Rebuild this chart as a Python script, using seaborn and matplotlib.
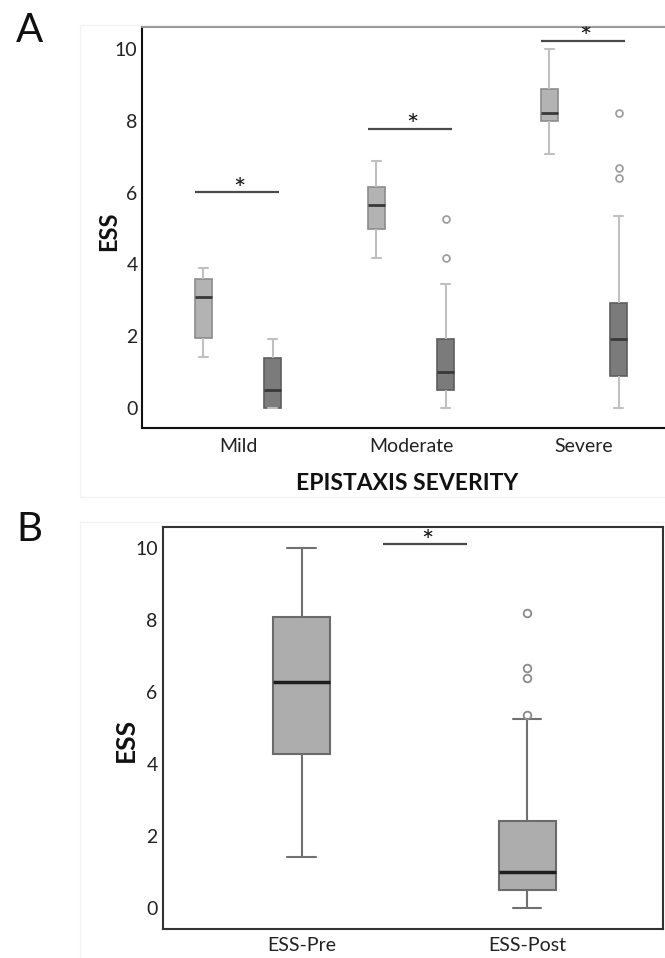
import matplotlib
matplotlib.use('Agg')
import matplotlib.pyplot as plt
import seaborn as sns
import pandas as pd
from matplotlib.patches import Rectangle

# ---- data (ESS scores) ----
severity_levels = ['Mild', 'Moderate', 'Severe']
timepoints = ['Pre', 'Post']

# panel A: per severity group, pre / post treatment
mild_pre = [1.42, 1.7, 1.95, 2.5, 3.09, 3.4, 3.59, 3.75, 3.91]
mild_post = [0.0, 0.0, 0.0, 0.3, 0.51, 1.0, 1.41, 1.7, 1.93]
moderate_pre = [4.17, 4.6, 4.98, 5.3, 5.65, 5.9, 6.15, 6.5, 6.88]
moderate_post = [0.0, 0.2, 0.4, 0.51, 0.6, 0.8, 1.0, 1.3, 1.6, 1.93, 3.46, 4.17, 5.26]
severe_pre = [7.07, 7.5, 7.99, 8.1, 8.2, 8.5, 8.88, 9.4, 10.0]
severe_post = [0.0, 0.2, 0.4, 0.7, 0.91, 1.1, 1.4, 1.7, 1.93, 2.2, 2.5, 2.7, 2.92,
               5.36, 6.39, 6.68, 8.22]

# panel B: all patients
group_labels_b = ['ESS-Pre', 'ESS-Post']
ess_pre = [1.41, 3.0, 4.28, 5.3, 6.27, 7.2, 8.07, 9.0, 10.0]
ess_post = [0.0, 0.1, 0.2, 0.3, 0.4, 0.51, 0.6, 0.7, 0.8, 0.9, 1.01, 1.3, 1.6, 1.9,
            2.2, 2.43, 5.25, 5.36, 6.38, 6.67, 8.2]

# height of the significance bars
sig_y_a = [6.01, 7.77, 10.22]
sig_y_b = 10.10

# ---- build long tables ----
pre_lists = [mild_pre, moderate_pre, severe_pre]
post_lists = [mild_post, moderate_post, severe_post]
rows = []
for sev, pre, post in zip(severity_levels, pre_lists, post_lists):
    for v in pre:
        rows.append((sev, 'Pre', v))
    for v in post:
        rows.append((sev, 'Post', v))
df_a = pd.DataFrame(rows, columns=['severity', 'time', 'ess'])

df_b = pd.DataFrame({
    'group': [group_labels_b[0]] * len(ess_pre) + [group_labels_b[1]] * len(ess_post),
    'ess': ess_pre + ess_post,
})

sns.set_style('white')
plt.rcParams['font.family'] = ['Lato', 'DejaVu Sans']

W, H = 665, 958
fig = plt.figure(figsize=(W / 100, H / 100), dpi=100)

# faint panel frames
for (x0, y0, x1, y1) in [(80, 25, 670, 497), (80, 522, 670, 960)]:
    fig.patches.append(Rectangle((x0 / W, 1 - y1 / H), (x1 - x0) / W, (y1 - y0) / H,
                                 transform=fig.transFigure, fill=False,
                                 edgecolor='#f3f3f3', lw=1))

# ---------------- Panel A ----------------
ax_a = fig.add_axes([141.7 / W, 1 - 428.3 / H, (680.4 - 141.7) / W, (428.3 - 26) / H])
sns.boxplot(data=df_a, x='severity', y='ess', hue='time', order=severity_levels,
            hue_order=timepoints, palette={'Pre': '#b3b3b3', 'Post': '#7b7b7b'},
            saturation=1, width=0.8, gap=0.75, linewidth=1.2, linecolor='#8c8c8c',
            whiskerprops=dict(color='#c0c0c0', lw=1.5),
            capprops=dict(color='#c0c0c0', lw=1.5),
            medianprops=dict(color='#383838', lw=2),
            flierprops=dict(marker='o', markerfacecolor='none', markeredgecolor='#9a9a9a',
                            markersize=5, markeredgewidth=1.2),
            legend=False, ax=ax_a)
for p in ax_a.patches:
    if p.get_facecolor()[0] < 0.6:
        p.set_edgecolor('#5e5e5e')

ax_a.set_xlim(-0.557, 2.557)
ax_a.set_ylim(-0.556, 10.63)
ax_a.set_yticks([0, 2, 4, 6, 8, 10])
ax_a.set_xlabel('EPISTAXIS SEVERITY', fontsize=16.5, fontweight='bold', color='#111111')
ax_a.xaxis.set_label_coords(0.4925, -0.112)
ax_a.set_ylabel('ESS', fontsize=17, fontweight='bold', color='#111111')
ax_a.yaxis.set_label_coords(-0.040, 0.49)
ax_a.tick_params(axis='both', length=0, labelsize=14, colors='#222222')
ax_a.tick_params(axis='y', pad=3)
ax_a.tick_params(axis='x', pad=7)
for side in ['left', 'bottom']:
    ax_a.spines[side].set_color('#111111')
    ax_a.spines[side].set_linewidth(1.5)
ax_a.spines['top'].set_color('#8a8a8a')
ax_a.spines['top'].set_linewidth(2)
ax_a.spines['right'].set_visible(False)

for i, y in enumerate(sig_y_a):
    ax_a.plot([i - 0.25, i + 0.235], [y, y], color='#4a4a4a', lw=1.6, solid_capstyle='butt')
    ax_a.text(i + 0.01, y - 0.18, '*', ha='center', va='baseline', fontsize=21,
              color='#111111')

# ---------------- Panel B ----------------
ax_b = fig.add_axes([163.3 / W, 1 - 929 / H, (662.7 - 163.3) / W, (929 - 527.3) / H])
sns.boxplot(data=df_b, x='group', y='ess', order=group_labels_b, color='#adadad',
            saturation=1, width=0.253, linewidth=1.5, linecolor='#6b6b6b',
            whiskerprops=dict(color='#707070', lw=1.5),
            capprops=dict(color='#707070', lw=1.5),
            medianprops=dict(color='#1e1e1e', lw=2.5),
            flierprops=dict(marker='o', markerfacecolor='none', markeredgecolor='#8a8a8a',
                            markersize=5.5, markeredgewidth=1.3),
            ax=ax_b)
ax_b.set_xlim(-0.614, 1.602)
ax_b.set_ylim(-0.574, 10.57)
ax_b.set_yticks([0, 2, 4, 6, 8, 10])
ax_b.set_xlabel('')
ax_b.set_ylabel('ESS', fontsize=19, fontweight='bold', color='#111111')
ax_b.yaxis.set_label_coords(-0.050, 0.47)
ax_b.tick_params(axis='y', length=0, pad=4, labelsize=14, colors='#222222')
ax_b.tick_params(axis='x', length=3, width=1, pad=3, labelsize=14, colors='#222222')
for side in ['left', 'bottom', 'top', 'right']:
    ax_b.spines[side].set_color('#333333')
    ax_b.spines[side].set_linewidth(1.5)

ax_b.plot([0.362, 0.732], [sig_y_b, sig_y_b], color='#4a4a4a', lw=1.6, solid_capstyle='butt')
ax_b.text(0.559, sig_y_b - 0.18, '*', ha='center', va='baseline', fontsize=21,
          color='#111111')

# panel letters
fig.text(16 / W, 1 - 42.3 / H, 'A', fontsize=29, ha='left', va='baseline', color='#111111')
fig.text(16 / W, 1 - 541 / H, 'B', fontsize=29, ha='left', va='baseline', color='#111111')

fig.savefig('out.png', dpi=100)
